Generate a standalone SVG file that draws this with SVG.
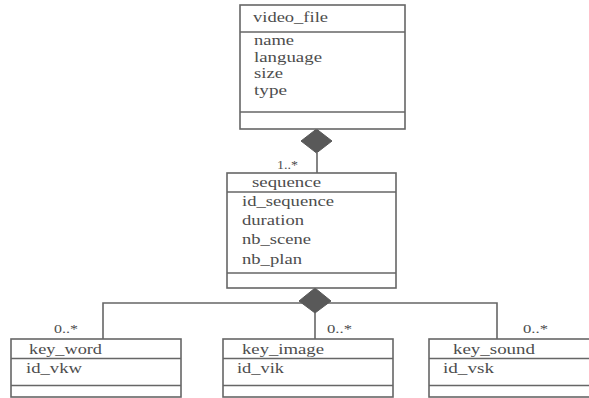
<svg xmlns="http://www.w3.org/2000/svg" width="589" height="398" viewBox="0 0 589 398">
<style>
.box{fill:#fff;stroke:#666;stroke-width:1.6}
.sep{stroke:#666;stroke-width:1.6}
.ln{fill:none;stroke:#666;stroke-width:1.6}
.dia{fill:#595959;stroke:#595959;stroke-width:1}
text{font-family:"Liberation Serif","Times New Roman",serif;font-size:15.5px;fill:#4d4d4d}
.m{font-size:13px}
</style>
<rect width="589" height="398" fill="#fff"/>
<g id="connectors">
<line class="ln" x1="317" y1="153" x2="317" y2="173"/>
<polygon class="dia" points="316.5,129 332,141 316.5,153 301,141"/>
<polyline class="ln" points="103,339 103,303 497,303 497,339"/>
<line class="ln" x1="315" y1="313" x2="315" y2="339"/>
<polygon class="dia" points="315,288 331,301 315,313 299,301"/>
<text class="m" x="277" y="169" textLength="21" lengthAdjust="spacingAndGlyphs">1..*</text>
<text class="m" x="54" y="333" textLength="24" lengthAdjust="spacingAndGlyphs">0..*</text>
<text class="m" x="327" y="333" textLength="25" lengthAdjust="spacingAndGlyphs">0..*</text>
<text class="m" x="523" y="333" textLength="25" lengthAdjust="spacingAndGlyphs">0..*</text>
</g>
<g id="video_file">
<rect class="box" x="240" y="5" width="165" height="124"/>
<line class="sep" x1="240" y1="32" x2="405" y2="32"/>
<line class="sep" x1="240" y1="112" x2="405" y2="112"/>
<text x="253" y="22" textLength="75" lengthAdjust="spacingAndGlyphs">video_file</text>
<text x="254" y="45" textLength="40" lengthAdjust="spacingAndGlyphs">name</text>
<text x="254" y="61.5" textLength="68" lengthAdjust="spacingAndGlyphs">language</text>
<text x="254" y="78" textLength="29" lengthAdjust="spacingAndGlyphs">size</text>
<text x="254" y="94.5" textLength="33" lengthAdjust="spacingAndGlyphs">type</text>
</g>
<g id="sequence">
<rect class="box" x="227" y="173" width="169" height="115"/>
<line class="sep" x1="227" y1="192" x2="396" y2="192"/>
<line class="sep" x1="227" y1="273" x2="396" y2="273"/>
<text x="252" y="187" textLength="69" lengthAdjust="spacingAndGlyphs">sequence</text>
<text x="242" y="206" textLength="92" lengthAdjust="spacingAndGlyphs">id_sequence</text>
<text x="242" y="225" textLength="62" lengthAdjust="spacingAndGlyphs">duration</text>
<text x="242" y="244" textLength="69" lengthAdjust="spacingAndGlyphs">nb_scene</text>
<text x="242" y="264" textLength="60" lengthAdjust="spacingAndGlyphs">nb_plan</text>
</g>
<g id="key_word">
<rect class="box" x="11" y="339" width="170" height="58"/>
<line class="sep" x1="11" y1="358.5" x2="181" y2="358.5"/>
<line class="sep" x1="11" y1="385.5" x2="181" y2="385.5"/>
<text x="29" y="354" textLength="73" lengthAdjust="spacingAndGlyphs">key_word</text>
<text x="26" y="373" textLength="56" lengthAdjust="spacingAndGlyphs">id_vkw</text>
</g>
<g id="key_image">
<rect class="box" x="223" y="339" width="170" height="58"/>
<line class="sep" x1="223" y1="358.5" x2="393" y2="358.5"/>
<line class="sep" x1="223" y1="385.5" x2="393" y2="385.5"/>
<text x="242" y="354" textLength="82" lengthAdjust="spacingAndGlyphs">key_image</text>
<text x="237" y="373" textLength="47" lengthAdjust="spacingAndGlyphs">id_vik</text>
</g>
<g id="key_sound">
<rect class="box" x="429" y="339" width="175" height="58"/>
<line class="sep" x1="429" y1="358.5" x2="604" y2="358.5"/>
<line class="sep" x1="429" y1="385.5" x2="604" y2="385.5"/>
<text x="453" y="354" textLength="82" lengthAdjust="spacingAndGlyphs">key_sound</text>
<text x="443" y="373" textLength="51" lengthAdjust="spacingAndGlyphs">id_vsk</text>
</g>
</svg>
